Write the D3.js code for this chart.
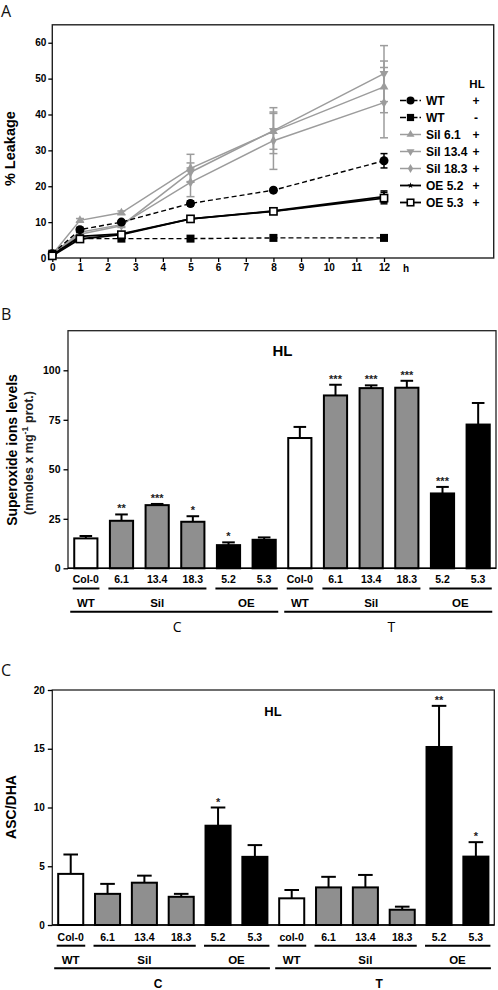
<!DOCTYPE html>
<html>
<head>
<meta charset="utf-8">
<script src="https://cdn.jsdelivr.net/npm/d3@7"></script>
<style>
  html, body { margin: 0; padding: 0; background: #fff; }
  svg { display: block; }
  .tick text { font-family: "Liberation Sans", Arial, sans-serif; font-weight: bold; }
</style>
</head>
<body>
<svg id="chart" width="498" height="990"></svg>
<script>
// ---------------- DATA ----------------
// Panel A: % leakage over time
const hours = [0, 1, 2.5, 5, 8, 12];
const hourTicks = [0,1,2,3,4,5,6,7,8,9,10,11,12];
const leakTicks = [0,10,20,30,40,50,60];
const seriesNames = ["WT", "WT", "Sil 6.1", "Sil 13.4", "Sil 18.3", "OE 5.2", "OE 5.3"];
const seriesHL = ["+", "-", "+", "+", "+", "+", "+"];
const wtHL      = [1.2, 7.9, 10.0, 15.2, 18.9, 27.1];
const wtHLerr   = [0.3, 0.6, 0.5, 0.7, 0.6, 2.0];
const wtNoHL    = [1.2, 5.4, 5.4, 5.4, 5.6, 5.6];
const wtNoHLerr = [0.2, 0.3, 0.3, 0.3, 0.3, 0.3];
const sil61     = [1.0, 10.5, 12.6, 25.0, 35.3, 47.7];
const sil61err  = [0.3, 0.5, 0.5, 3.9, 5.0, 7.2];
const sil134    = [1.0, 6.6, 9.0, 23.9, 35.5, 51.4];
const sil134err = [0.3, 0.5, 0.5, 2.6, 6.4, 7.8];
const sil183    = [1.0, 7.2, 9.3, 21.1, 32.7, 43.3];
const sil183err = [0.3, 0.5, 0.5, 4.0, 8.0, 9.8];
const oe52      = [0.8, 6.0, 6.7, 10.9, 13.1, 17.1];
const oe52err   = [0.3, 0.3, 0.3, 0.5, 0.5, 1.6];
const oe53      = [0.6, 5.3, 6.5, 10.9, 13.0, 16.7];
const oe53err   = [0.3, 0.3, 0.3, 0.5, 0.5, 1.6];

// Panels B and C: bar categories
const lines      = ["Col-0","6.1","13.4","18.3","5.2","5.3","Col-0","6.1","13.4","18.3","5.2","5.3"];
const linesC     = ["Col-0","6.1","13.4","18.3","5.2","5.3","col-0","6.1","13.4","18.3","5.2","5.3"];
const genotypes  = ["WT","Sil","Sil","Sil","OE","OE","WT","Sil","Sil","Sil","OE","OE"];
const conditions = ["C","C","C","C","C","C","T","T","T","T","T","T"];

// Panel B: superoxide ions levels
const superoxide    = [15.1, 24.0, 31.9, 23.5, 11.7, 14.4, 65.8, 87.3, 91.0, 91.2, 37.8, 72.6];
const superoxideErr = [1.2, 3.2, 0.6, 2.8, 1.4, 1.2, 5.6, 5.4, 1.4, 3.5, 3.3, 10.9];
const superoxideSig = ["", "**", "***", "*", "*", "", "", "***", "***", "***", "***", ""];
const superoxideTicks = [0, 25, 50, 75, 100];

// Panel C: ASC/DHA ratio
const ascDha    = [4.35, 2.65, 3.6, 2.4, 8.45, 5.8, 2.27, 3.2, 3.2, 1.3, 15.15, 5.82];
const ascDhaErr = [1.65, 0.85, 0.6, 0.25, 1.55, 1.0, 0.71, 0.9, 1.06, 0.26, 3.5, 1.23];
const ascDhaSig = ["", "", "", "", "*", "", "", "", "", "", "**", "*"];
const ascDhaTicks = [0, 5, 10, 15, 20];

// ---------------- DRAW ----------------
const svg = d3.select("#chart");
const ARIAL = '"Liberation Sans", Arial, sans-serif';
const HUMAN = '"Open Sans", "DejaVu Sans", sans-serif';
const GREY_LINE = "#9c9c9c";
const GREY_FILL = "#8f8f8f";

function panelLetter(t, x, y) {
  svg.append("text").attr("x", x).attr("y", y).text(t)
    .attr("font-family", HUMAN).attr("font-size", 16).attr("fill", "#111");
}

// ===== Panel A =====
panelLetter("A", 1, 17);
const xA = d3.scaleLinear().domain([0, 12]).range([52.3, 384]);
const yA = d3.scaleLinear().domain([0, 65]).range([258, 24.8]);
const gA = svg.append("g");
gA.append("rect").attr("x", xA(0)).attr("y", yA(65)).attr("width", 493.7 - xA(0)).attr("height", yA(0) - yA(65))
  .attr("fill", "none").attr("stroke", "#222").attr("stroke-width", 1.4);

const axA_y = gA.append("g").attr("transform", `translate(${xA(0)},0)`)
  .call(d3.axisLeft(yA).tickValues(leakTicks).tickSize(4).tickPadding(2));
axA_y.select(".domain").remove();
axA_y.selectAll("text").attr("font-size", 10);
axA_y.selectAll("line").attr("stroke-width", 1.3);

const axA_x = gA.append("g").attr("transform", `translate(0,${yA(0)})`)
  .call(d3.axisBottom(xA).tickValues(hourTicks).tickSize(4).tickPadding(2));
axA_x.select(".domain").remove();
axA_x.selectAll("text").attr("font-size", 10);
axA_x.selectAll("line").attr("stroke-width", 1.3);
gA.append("text").attr("x", 406).attr("y", 272).text("h")
  .attr("font-family", ARIAL).attr("font-weight", "bold").attr("font-size", 10).attr("text-anchor", "middle");

gA.append("text").attr("transform", `translate(15,${yA(30.5)}) rotate(-90)`)
  .attr("text-anchor", "middle").attr("font-family", ARIAL).attr("font-weight", "bold").attr("font-size", 14.5)
  .text("% Leakage");

const seriesA = [
  { v: sil61,  e: sil61err,  color: GREY_LINE, dash: null, w: 1.5, sym: "triUp" },
  { v: sil134, e: sil134err, color: GREY_LINE, dash: null, w: 1.5, sym: "triDown" },
  { v: sil183, e: sil183err, color: GREY_LINE, dash: null, w: 1.5, sym: "diamond" },
  { v: wtNoHL, e: wtNoHLerr, color: "#000", dash: "5,3", w: 1.4, sym: "square" },
  { v: wtHL,   e: wtHLerr,   color: "#000", dash: "5,3", w: 1.4, sym: "circle" },
  { v: oe52,   e: oe52err,   color: "#000", dash: null, w: 1.8, sym: "star" },
  { v: oe53,   e: oe53err,   color: "#000", dash: null, w: 1.8, sym: "openSquare" }
];

function drawMarker(g, sym, color, x, y, scale) {
  const s = scale || 1;
  if (sym === "circle") {
    g.append("circle").attr("cx", x).attr("cy", y).attr("r", 4.5 * s).attr("fill", color);
  } else if (sym === "square") {
    g.append("rect").attr("x", x - 4 * s).attr("y", y - 4 * s).attr("width", 8 * s).attr("height", 8 * s).attr("fill", color);
  } else if (sym === "openSquare") {
    g.append("rect").attr("x", x - 3.6 * s).attr("y", y - 3.6 * s).attr("width", 7.2 * s).attr("height", 7.2 * s)
      .attr("fill", "#fff").attr("stroke", color).attr("stroke-width", 1.6);
  } else if (sym === "triUp") {
    g.append("path").attr("transform", `translate(${x},${y})`).attr("d", d3.symbol(d3.symbolTriangle, 34 * s * s)()).attr("fill", color);
  } else if (sym === "triDown") {
    g.append("path").attr("transform", `translate(${x},${y}) rotate(180)`).attr("d", d3.symbol(d3.symbolTriangle, 34 * s * s)()).attr("fill", color);
  } else if (sym === "diamond") {
    g.append("path").attr("transform", `translate(${x},${y})`).attr("d", d3.symbol(d3.symbolDiamond, 30 * s * s)()).attr("fill", color);
  } else if (sym === "star") {
    g.append("path").attr("transform", `translate(${x},${y})`).attr("d", d3.symbol(d3.symbolStar, 14 * s * s)()).attr("fill", color);
  }
}

const lineGen = d3.line().x((d, i) => xA(hours[i])).y(d => yA(d));
seriesA.forEach(s => {
  const g = gA.append("g");
  s.v.forEach((v, i) => {
    const x = xA(hours[i]), cw = s.color === "#000" ? 3.5 : 4;
    const y1 = yA(v + s.e[i]), y2 = yA(v - s.e[i]);
    g.append("line").attr("x1", x).attr("x2", x).attr("y1", y1).attr("y2", y2).attr("stroke", s.color).attr("stroke-width", 1.5);
    g.append("line").attr("x1", x - cw).attr("x2", x + cw).attr("y1", y1).attr("y2", y1).attr("stroke", s.color).attr("stroke-width", 1.5);
    g.append("line").attr("x1", x - cw).attr("x2", x + cw).attr("y1", y2).attr("y2", y2).attr("stroke", s.color).attr("stroke-width", 1.5);
  });
  g.append("path").attr("d", lineGen(s.v)).attr("fill", "none").attr("stroke", s.color)
    .attr("stroke-width", s.w).attr("stroke-dasharray", s.dash);
  s.v.forEach((v, i) => drawMarker(g, s.sym, s.color, xA(hours[i]), yA(v)));
});

// legend (order: WT+, WT-, Sil 6.1, Sil 13.4, Sil 18.3, OE 5.2, OE 5.3)
const legendOrder = [4, 3, 0, 1, 2, 5, 6];
const gL = gA.append("g");
gL.append("text").attr("x", 477).attr("y", 88).text("HL").attr("text-anchor", "middle")
  .attr("font-family", ARIAL).attr("font-weight", "bold").attr("font-size", 11.5);
legendOrder.forEach((si, k) => {
  const s = seriesA[si];
  const y = 100.5 + k * 17;
  gL.append("line").attr("x1", 400).attr("x2", 421).attr("y1", y).attr("y2", y)
    .attr("stroke", s.color).attr("stroke-width", s.w).attr("stroke-dasharray", s.dash ? "6,2,1.5,2" : null);
  drawMarker(gL, s.sym, s.color, 410.5, y, 0.9);
  gL.append("text").attr("x", 426).attr("y", y).attr("dy", "0.36em").text(seriesNames[k])
    .attr("font-family", ARIAL).attr("font-weight", "bold").attr("font-size", 12);
  gL.append("text").attr("x", 476).attr("y", y).attr("dy", "0.36em").text(seriesHL[k]).attr("text-anchor", "middle")
    .attr("font-family", ARIAL).attr("font-weight", "bold").attr("font-size", 12);
});

// ===== Bar panels =====
function fillFor(gt) { return gt === "WT" ? "#fff" : gt === "Sil" ? GREY_FILL : "#000"; }

function groupRuns(arr) {
  const runs = [];
  arr.forEach((v, i) => {
    if (runs.length && runs[runs.length - 1].key === v && runs[runs.length - 1].end === i - 1) runs[runs.length - 1].end = i;
    else runs.push({ key: v, start: i, end: i });
  });
  return runs;
}

function barPanel(opt) {
  const idx = d3.range(opt.values.length);
  const x = d3.scaleBand().domain(idx).range([opt.x0, opt.x1]).paddingInner(opt.padIn).paddingOuter(opt.padIn / 2);
  const y = d3.scaleLinear().domain([0, opt.ymax]).range([opt.yBottom, opt.yTop]);
  const g = svg.append("g");
  g.append("rect").attr("x", opt.x0).attr("y", opt.yTop).attr("width", opt.x1 - opt.x0).attr("height", opt.yBottom - opt.yTop)
    .attr("fill", "none").attr("stroke", "#222").attr("stroke-width", 1.3);
  const ay = g.append("g").attr("transform", `translate(${opt.x0},0)`)
    .call(d3.axisLeft(y).tickValues(opt.ticks).tickSize(4.5).tickPadding(3));
  ay.select(".domain").remove();
  ay.selectAll("text").attr("font-size", opt.tickFont);
  ay.selectAll("line").attr("stroke-width", 1.3);

  idx.forEach(i => {
    const cx = x(i) + x.bandwidth() / 2;
    const yt = y(opt.values[i] + opt.errs[i]);
    g.append("line").attr("x1", cx).attr("x2", cx).attr("y1", y(opt.values[i])).attr("y2", yt).attr("stroke", "#000").attr("stroke-width", 2);
    g.append("line").attr("x1", cx - opt.cap).attr("x2", cx + opt.cap).attr("y1", yt).attr("y2", yt).attr("stroke", "#000").attr("stroke-width", 2);
    if (opt.sig[i]) {
      g.append("text").attr("x", cx).attr("y", yt - 2).text(opt.sig[i]).attr("text-anchor", "middle")
        .attr("font-family", ARIAL).attr("font-weight", "bold").attr("font-size", 11).attr("fill", "#222");
    }
  });
  g.selectAll("rect.bar").data(idx).enter().append("rect").attr("class", "bar")
    .attr("x", i => x(i)).attr("width", x.bandwidth())
    .attr("y", i => y(opt.values[i])).attr("height", i => y(0) - y(opt.values[i]))
    .attr("fill", i => fillFor(genotypes[i])).attr("stroke", "#000").attr("stroke-width", 2);
  g.append("line").attr("x1", opt.x0).attr("x2", opt.x1).attr("y1", opt.yBottom).attr("y2", opt.yBottom).attr("stroke", "#000").attr("stroke-width", 1.6);

  idx.forEach(i => {
    g.append("text").attr("x", x(i) + x.bandwidth() / 2).attr("y", opt.catY).attr("dy", "0.36em").text(opt.cats[i])
      .attr("text-anchor", "middle").attr("font-family", ARIAL).attr("font-weight", "bold").attr("font-size", opt.catFont);
  });
  const byGeno = groupRuns(genotypes.map((gt, i) => gt + conditions[i]));
  byGeno.forEach(r => {
    const xs = x(r.start) - 1.5, xe = x(r.end) + x.bandwidth() + 2;
    g.append("line").attr("x1", xs).attr("x2", xe).attr("y1", opt.uline1).attr("y2", opt.uline1).attr("stroke", "#000").attr("stroke-width", 2);
    g.append("text").attr("x", (x(r.start) + x(r.end) + x.bandwidth()) / 2).attr("y", opt.grpY).attr("dy", "0.36em")
      .text(genotypes[r.start]).attr("text-anchor", "middle")
      .attr("font-family", ARIAL).attr("font-weight", "bold").attr("font-size", opt.grpFont);
  });
  const byCond = groupRuns(conditions);
  byCond.forEach(r => {
    const xs = x(r.start) - 4, xe = x(r.end) + x.bandwidth() + 2.5;
    g.append("line").attr("x1", xs).attr("x2", xe).attr("y1", opt.uline2).attr("y2", opt.uline2).attr("stroke", "#000").attr("stroke-width", 2);
    g.append("text").attr("x", (xs + xe) / 2 + opt.condShift).attr("y", opt.condY).attr("dy", "0.36em")
      .text(r.key).attr("text-anchor", "middle")
      .attr("font-family", opt.condBold ? ARIAL : HUMAN).attr("font-weight", opt.condBold ? "bold" : "normal")
      .attr("font-size", opt.condFont);
  });
  g.append("text").attr("x", opt.hlX).attr("y", opt.hlY).attr("dy", "0.36em").text("HL").attr("text-anchor", "middle")
    .attr("font-family", ARIAL).attr("font-weight", "bold").attr("font-size", opt.hlFont);
  return g;
}

// ===== Panel B =====
panelLetter("B", 1, 320);
barPanel({
  values: superoxide, errs: superoxideErr, sig: superoxideSig, cats: lines, ticks: superoxideTicks,
  x0: 68, x1: 496, yTop: 330.7, yBottom: 568.3, ymax: 120, padIn: 0.35, cap: 6.3,
  tickFont: 10.5, catY: 579.5, catFont: 10.5, uline1: 588.5, grpY: 602.5, grpFont: 11.5,
  uline2: 611.7, condY: 627, condFont: 14, condBold: false, condShift: 3,
  hlX: 282.5, hlY: 351, hlFont: 15
});
svg.append("text").attr("transform", "translate(12,450) rotate(-90)").attr("text-anchor", "middle").attr("dy", "0.36em")
  .attr("font-family", ARIAL).attr("font-weight", "bold").attr("font-size", 14).text("Superoxide ions levels");
const t2 = svg.append("text").attr("transform", "translate(28,453) rotate(-90)").attr("text-anchor", "middle").attr("dy", "0.36em")
  .attr("font-family", ARIAL).attr("font-weight", "bold").attr("font-size", 12.5).attr("fill", "#222");
t2.append("tspan").text("(nmoles x mg");
t2.append("tspan").attr("baseline-shift", "super").attr("font-size", 9).text("-1");
t2.append("tspan").text(" prot.)");

// ===== Panel C =====
panelLetter("C", 1, 676);
barPanel({
  values: ascDha, errs: ascDhaErr, sig: ascDhaSig, cats: linesC, ticks: ascDhaTicks,
  x0: 52.3, x1: 494.3, yTop: 690, yBottom: 925, ymax: 20, padIn: 0.32, cap: 7.3,
  tickFont: 10, catY: 937.5, catFont: 10.5, uline1: 945.7, grpY: 960, grpFont: 11.5,
  uline2: 968.3, condY: 984, condFont: 12, condBold: true, condShift: -4,
  hlX: 273, hlY: 711.7, hlFont: 13
});
svg.append("text").attr("transform", "translate(11,807) rotate(-90)").attr("text-anchor", "middle").attr("dy", "0.36em")
  .attr("font-family", ARIAL).attr("font-weight", "bold").attr("font-size", 14).text("ASC/DHA");
</script>
</body>
</html>
